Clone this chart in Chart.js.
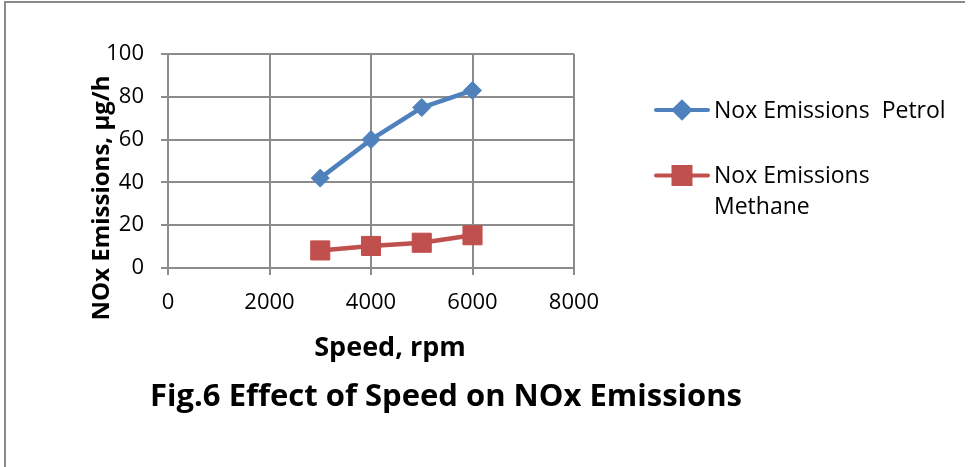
<!DOCTYPE html>
<html>
<head>
<meta charset="utf-8">
<script src="https://cdn.jsdelivr.net/npm/chart.js@4/dist/chart.umd.min.js"></script>
<style>
  html, body { margin: 0; padding: 0; background: #fff; }
  #wrap { position: relative; width: 969px; height: 467px; }
  canvas { display: block; }
</style>
</head>
<body>
<div id="wrap"><canvas id="c" width="969" height="467"></canvas></div>
<script>
// ---- data ----
const speeds = [3000, 4000, 5000, 6000];
const petrolNox = [42, 60, 75, 83];
const methaneNox = [8.2, 10.3, 11.8, 15.3];
const seriesNames = ['Nox Emissions  Petrol', 'Nox Emissions\nMethane'];
const xTicks = [0, 2000, 4000, 6000, 8000];
const yTicks = [0, 20, 40, 60, 80, 100];
const xTitle = 'Speed, rpm';
const yTitle = 'NOx Emissions, \u03bcg/h';
const figCaption = 'Fig.6 Effect of Speed on NOx Emissions';

const BLUE = '#4F81BD';
const RED = '#C0504D';
const GRID = '#8c8c8c';
const FONT = '"Open Sans"';

const toPts = (xs, ys) => xs.map((x, i) => ({ x: x, y: ys[i] }));

const extras = {
  id: 'extras',
  afterDraw(chart) {
    const ctx = chart.ctx;
    ctx.save();
    // outer frame (left + top)
    ctx.strokeStyle = '#8a8a8a';
    ctx.lineWidth = 2;
    ctx.beginPath();
    ctx.moveTo(5, 467);
    ctx.lineTo(5, 2);
    ctx.lineTo(965, 2);
    ctx.stroke();

    ctx.fillStyle = '#000';
    // x axis title
    ctx.font = 'bold 27px ' + FONT;
    ctx.textAlign = 'center';
    ctx.textBaseline = 'alphabetic';
    ctx.fillText(xTitle, 390, 356);
    // y axis title
    ctx.save();
    ctx.font = 'bold 24px ' + FONT;
    ctx.translate(109, 198);
    ctx.rotate(-Math.PI / 2);
    ctx.fillText(yTitle, 0, 0);
    ctx.restore();
    // caption
    ctx.font = 'bold 31px ' + FONT;
    ctx.fillText(figCaption, 446, 406);

    // legend
    const entries = [
      { ds: chart.data.datasets[0], y: 110 },
      { ds: chart.data.datasets[1], y: 175.5 }
    ];
    ctx.font = '23px ' + FONT;
    ctx.textAlign = 'left';
    ctx.textBaseline = 'middle';
    entries.forEach((e, i) => {
      ctx.strokeStyle = e.ds.borderColor;
      ctx.lineWidth = 4;
      ctx.lineCap = 'round';
      ctx.beginPath();
      ctx.moveTo(656, e.y);
      ctx.lineTo(708, e.y);
      ctx.stroke();
      ctx.fillStyle = e.ds.pointBackgroundColor;
      ctx.strokeStyle = e.ds.pointBorderColor;
      Chart.helpers.drawPoint(ctx, {
        pointStyle: e.ds.pointStyle,
        radius: i === 0 ? 8 : 12,
        borderWidth: 1,
        rotation: 0
      }, 682, e.y);
      ctx.fillStyle = '#000';
      const lines = seriesNames[i].split('\n');
      lines.forEach((t, k) => ctx.fillText(t, 714, e.y + 1 + k * 31));
    });
    ctx.restore();
  }
};

new Chart(document.getElementById('c'), {
  type: 'line',
  data: {
    datasets: [
      {
        label: seriesNames[0],
        data: toPts(speeds, petrolNox),
        borderColor: BLUE,
        backgroundColor: BLUE,
        borderWidth: 4.5,
        pointStyle: 'rectRot',
        pointRadius: 9,
        pointHoverRadius: 9,
        pointBackgroundColor: BLUE,
        pointBorderColor: BLUE,
        pointBorderWidth: 1,
        tension: 0
      },
      {
        label: seriesNames[1],
        data: toPts(speeds, methaneNox),
        borderColor: RED,
        backgroundColor: RED,
        borderWidth: 4.5,
        pointStyle: 'rect',
        pointRadius: 13.5,
        pointHoverRadius: 13.5,
        pointBackgroundColor: RED,
        pointBorderColor: RED,
        pointBorderWidth: 1,
        tension: 0
      }
    ]
  },
  options: {
    responsive: false,
    animation: false,
    devicePixelRatio: 1,
    layout: { padding: { left: 0, top: 54, right: 395, bottom: 139 } },
    plugins: { legend: { display: false }, tooltip: { enabled: false }, title: { display: false } },
    scales: {
      x: {
        type: 'linear',
        min: xTicks[0],
        max: xTicks[xTicks.length - 1],
        afterBuildTicks: s => { s.ticks = xTicks.map(v => ({ value: v })); },
        afterFit: s => { s.height = 60; },
        grid: { color: GRID, lineWidth: 2, tickLength: 7, drawTicks: true, tickColor: GRID },
        border: { color: GRID, width: 2 },
        ticks: { color: '#000', font: { family: FONT, size: 22 }, padding: 15, maxRotation: 0,
                 callback: v => String(v) }
      },
      y: {
        type: 'linear',
        min: yTicks[0],
        max: yTicks[yTicks.length - 1],
        afterBuildTicks: s => { s.ticks = yTicks.map(v => ({ value: v })); },
        afterFit: s => { s.width = 168; },
        grid: { color: GRID, lineWidth: 2, tickLength: 7, drawTicks: true, tickColor: GRID },
        border: { color: GRID, width: 2 },
        ticks: { color: '#000', font: { family: FONT, size: 22 }, padding: 17,
                 callback: v => String(v) }
      }
    }
  },
  plugins: [extras]
});
</script>
</body>
</html>
